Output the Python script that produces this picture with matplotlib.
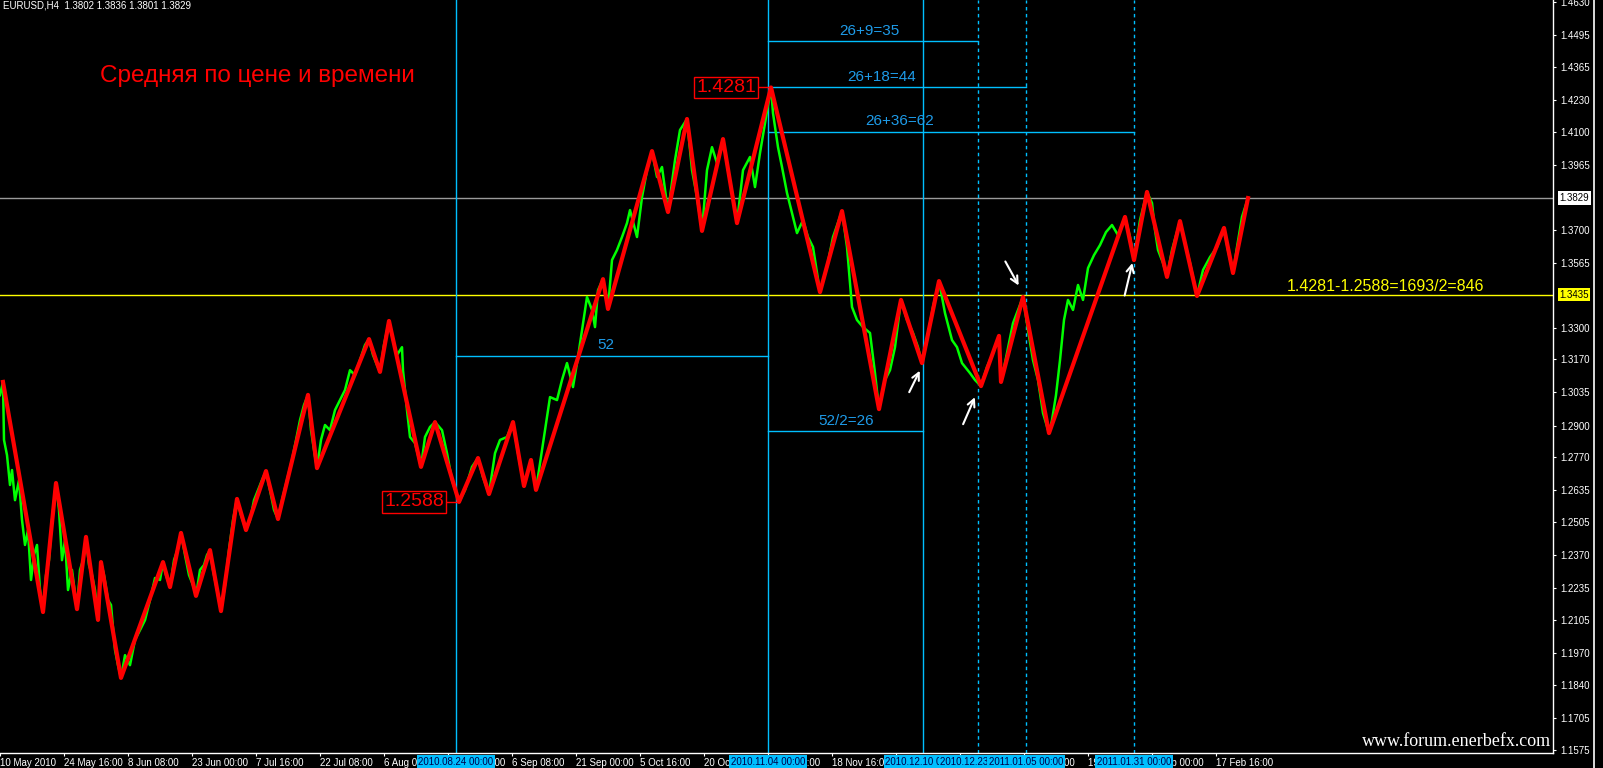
import matplotlib
matplotlib.use("Agg")
import matplotlib.pyplot as plt
from matplotlib.lines import Line2D
from matplotlib.transforms import blended_transform_factory

plt.rcParams['font.family'] = ['Liberation Sans', 'DejaVu Sans']

# EURUSD H4 closes (bar index from 10 May 2010 00:00, price)
px_bar = [0, 3, 4, 7, 10, 12, 15, 19, 22, 25, 28, 31, 34, 37, 40, 43, 46, 49, 52, 56,
          59, 62, 65, 68, 72, 77, 80, 83, 86, 89, 92, 95, 98, 101, 104, 108, 111, 115, 118, 121,
          125, 130, 135, 140, 145, 150, 155, 160, 163, 166, 170, 174, 178, 181, 185, 189, 193, 196, 200, 204,
          207, 210, 213, 217, 221, 225, 229, 233, 237, 241, 246, 250, 254, 258, 262, 266, 270, 274, 278, 282,
          287, 292, 296, 300, 304, 308, 311, 314, 317, 321, 325, 330, 335, 340, 345, 350, 355, 360, 365, 369,
          373, 377, 380, 384, 389, 393, 397, 402, 403, 407, 410, 415, 421, 425, 430, 435, 442, 447, 452, 459,
          465, 472, 478, 483, 489, 495, 500, 507, 513, 518, 524, 531, 536, 543, 550, 557, 562, 567, 573, 578,
          582, 587, 592, 595, 598, 603, 608, 612, 617, 622, 627, 630, 637, 642, 647, 652, 657, 662, 668, 675,
          680, 687, 692, 697, 702, 707, 712, 717, 723, 728, 733, 737, 743, 750, 755, 760, 765, 771, 773, 778,
          782, 787, 792, 797, 803, 808, 813, 820, 827, 833, 842, 847, 852, 857, 863, 870, 875, 879, 885, 890,
          895, 901, 907, 913, 918, 922, 927, 933, 939, 945, 952, 957, 962, 970, 975, 981, 987, 993, 999, 1001,
          1007, 1013, 1018, 1023, 1028, 1033, 1038, 1043, 1049, 1052, 1056, 1060, 1064, 1068, 1073, 1078, 1083, 1088, 1094, 1100,
          1106, 1112, 1118, 1125, 1130, 1134, 1140, 1147, 1152, 1155, 1158, 1163, 1167, 1172, 1180, 1185, 1190, 1197, 1203, 1210,
          1217, 1224, 1228, 1233, 1237, 1242, 1248]
px_close = [1.3024, 1.3078, 1.2841, 1.2779, 1.2657, 1.2718, 1.2595, 1.2677, 1.2514, 1.2412, 1.2473, 1.2269, 1.2371, 1.2412, 1.2228, 1.2138, 1.2289, 1.2350, 1.2514, 1.2665,
            1.2555, 1.2350, 1.2432, 1.2228, 1.2310, 1.2150, 1.2310, 1.2350, 1.2445, 1.2330, 1.2289, 1.2228, 1.2105, 1.2342, 1.2289, 1.2187, 1.2167, 1.1983, 1.1921, 1.1869,
            1.1962, 1.1921, 1.2024, 1.2064, 1.2105, 1.2187, 1.2277, 1.2269, 1.2342, 1.2289, 1.2240, 1.2350, 1.2399, 1.2461, 1.2371, 1.2289, 1.2248, 1.2204, 1.2310, 1.2330,
            1.2371, 1.2391, 1.2310, 1.2228, 1.2142, 1.2248, 1.2391, 1.2514, 1.2600, 1.2534, 1.2473, 1.2514, 1.2595, 1.2636, 1.2677, 1.2714, 1.2636, 1.2555, 1.2518, 1.2595,
            1.2677, 1.2759, 1.2841, 1.2922, 1.2984, 1.3025, 1.2881, 1.2800, 1.2726, 1.2841, 1.2902, 1.2881, 1.2963, 1.3004, 1.3045, 1.3126, 1.3106, 1.3167, 1.3229, 1.3253,
            1.3188, 1.3147, 1.3119, 1.3229, 1.3327, 1.3249, 1.3188, 1.3220, 1.3126, 1.2963, 1.2853, 1.2828, 1.2731, 1.2853, 1.2894, 1.2914, 1.2881, 1.2787, 1.2677, 1.2588,
            1.2636, 1.2731, 1.2767, 1.2689, 1.2620, 1.2787, 1.2841, 1.2853, 1.2914, 1.2787, 1.2653, 1.2759, 1.2637, 1.2828, 1.3016, 1.3004, 1.3086, 1.3155, 1.3057, 1.3180,
            1.3290, 1.3425, 1.3372, 1.3302, 1.3453, 1.3498, 1.3376, 1.3576, 1.3617, 1.3670, 1.3727, 1.3780, 1.3670, 1.3833, 1.3943, 1.4021, 1.3915, 1.3956, 1.3772, 1.3984,
            1.4107, 1.4152, 1.3943, 1.3833, 1.3695, 1.3943, 1.4037, 1.3972, 1.4070, 1.3943, 1.3833, 1.3727, 1.3943, 1.3997, 1.3874, 1.4013, 1.4135, 1.4281, 1.4176, 1.4037,
            1.3956, 1.3850, 1.3768, 1.3686, 1.3739, 1.3670, 1.3629, 1.3445, 1.3547, 1.3670, 1.3776, 1.3629, 1.3384, 1.3331, 1.3302, 1.3278, 1.3114, 1.2967, 1.3086, 1.3126,
            1.3220, 1.3413, 1.3331, 1.3278, 1.3220, 1.3155, 1.3249, 1.3384, 1.3490, 1.3359, 1.3249, 1.3220, 1.3155, 1.3114, 1.3086, 1.3061, 1.3139, 1.3196, 1.3266, 1.3078,
            1.3196, 1.3318, 1.3372, 1.3425, 1.3290, 1.3167, 1.3086, 1.2951, 1.2869, 1.2922, 1.3024, 1.3167, 1.3331, 1.3413, 1.3372, 1.3474, 1.3413, 1.3543, 1.3596, 1.3637,
            1.3690, 1.3719, 1.3678, 1.3752, 1.3670, 1.3576, 1.3739, 1.3854, 1.3809, 1.3698, 1.3617, 1.3564, 1.3507, 1.3617, 1.3735, 1.3645, 1.3564, 1.3429, 1.3535, 1.3588,
            1.3629, 1.3707, 1.3617, 1.3523, 1.3629, 1.3752, 1.3829]

# ZigZag pivots
zz_bar = [3, 43, 56, 77, 86, 98, 101, 121, 163, 170, 181, 196, 210, 221, 237, 246, 266, 278, 308, 317,
          369, 380, 389, 421, 435, 459, 478, 489, 513, 524, 531, 536, 603, 608, 652, 668, 687, 702, 723, 737,
          771, 820, 842, 879, 901, 922, 939, 981, 999, 1001, 1023, 1049, 1125, 1134, 1147, 1167, 1180, 1197, 1224, 1233,
          1248]
zz_price = [1.3078, 1.2138, 1.2665, 1.2150, 1.2445, 1.2106, 1.2342, 1.1869, 1.2342, 1.2240, 1.2461, 1.2204, 1.2391, 1.2142, 1.2600, 1.2473, 1.2714, 1.2518, 1.3025, 1.2726,
            1.3253, 1.3119, 1.3327, 1.2731, 1.2914, 1.2588, 1.2767, 1.2620, 1.2914, 1.2653, 1.2759, 1.2637, 1.3498, 1.3376, 1.4021, 1.3772, 1.4152, 1.3695, 1.4070, 1.3727,
            1.4281, 1.3445, 1.3776, 1.2967, 1.3413, 1.3155, 1.3490, 1.3061, 1.3266, 1.3078, 1.3425, 1.2869, 1.3752, 1.3576, 1.3854, 1.3507, 1.3735, 1.3429, 1.3707, 1.3523,
            1.3829]

y_ticks = [1.4630, 1.4495, 1.4365, 1.4230, 1.4100, 1.3965, 1.3700, 1.3565, 1.3300, 1.3170, 1.3035,
           1.2900, 1.2770, 1.2635, 1.2505, 1.2370, 1.2235, 1.2105, 1.1970, 1.1840, 1.1705, 1.1575]
x_labels = ["10 May 2010", "24 May 16:00", "8 Jun 08:00", "23 Jun 00:00", "7 Jul 16:00", "22 Jul 08:00",
            "6 Aug 00:00", "20 Aug 16:00", "6 Sep 08:00", "21 Sep 00:00", "5 Oct 16:00", "20 Oct 08:00",
            "4 Nov 00:00", "18 Nov 16:00", "3 Dec 08:00", "20 Dec 00:00", "4 Jan 16:00", "19 Jan 08:00",
            "3 Feb 00:00", "17 Feb 16:00"]
bars_per_label = 64

# vertical time lines
event_bar = [456, 768, 923, 978, 1026, 1134]
event_label = ["2010.08.24 00:00", "2010.11.04 00:00", "2010.12.10 00:00",
               "2010.12.23 00:00", "2011.01.05 00:00", "2011.01.31 00:00"]
event_dashed = [False, False, False, True, True, True]

# horizontal measuring lines
meas_start = [456, 768, 768, 768, 768]
meas_end = [768, 923, 978, 1026, 1134]
meas_price = [1.3184, 1.2878, 1.4471, 1.4281, 1.4099]
meas_text = ["52", "52/2=26", "26+9=35", "26+18=44", "26+36=62"]
meas_text_bar = [606, 846, 869, 882, 900]
meas_text_price = [1.3229, 1.2918, 1.4513, 1.4324, 1.4144]

last_price = 1.3829
mid_price = 1.3435
low_bar, low_price = 459, 1.2588
high_bar, high_price = 771, 1.4281

cyan = '#00BFFF'
cyan_txt = '#1E9BE8'

fig = plt.figure(figsize=(16.03, 7.68), dpi=100, facecolor='black')
ax = fig.add_axes([0, 15 / 768, 1553 / 1603, 753 / 768], facecolor='black')
ax.set_xlim(0, 1553)
ax.set_ylim(1.15622, 1.46382)

ax.axhline(last_price, color='#9a9a9a', lw=1, zorder=1)
ax.axhline(mid_price, color='#FFFF00', lw=1, zorder=1)

for b, d in zip(event_bar, event_dashed):
    ax.axvline(b, color=cyan, lw=1, ls=(0, (2.5, 2.5)) if d else '-', zorder=1)

for s, e, p in zip(meas_start, meas_end, meas_price):
    ax.plot([s, e], [p, p], color=cyan, lw=1, zorder=1)
for t, b, p in zip(meas_text, meas_text_bar, meas_text_price):
    ax.text(b, p, t, color=cyan_txt, fontsize=11, ha='center', va='center')

ax.plot(px_bar, px_close, color='#00FF00', lw=1.8, zorder=3)
ax.plot(zz_bar, zz_price, color='#FF0000', lw=3, zorder=4)

# pivot price boxes
for b, p, off in [(low_bar, low_price, 15), (high_bar, high_price, 15)]:
    ax.plot([b - off + 3, b], [p, p], color='#FF0000', lw=1, zorder=4)
    ax.text(b - off, p, f"{p:.4f}", color='#FF0000', fontsize=14, ha='right', va='center',
            bbox=dict(facecolor='black', edgecolor='#FF0000', lw=1, pad=1.5), zorder=6)

ax.text(1385, 1.3466, "1.4281-1.2588=1693/2=846", color='#FFFF00', fontsize=11.5,
        ha='center', va='center')

ax.text(100 / 1553, 1 - 76 / 753, "Средняя по цене и времени", color='#FF0000',
        fontsize=17.5, ha='left', va='center', transform=ax.transAxes)
ax.text(3 / 1553, 1 - 6 / 753, "EURUSD,H4  1.3802 1.3836 1.3801 1.3829", color='white',
        fontsize=7, ha='left', va='center', transform=ax.transAxes)
ax.text(1551 / 1553, 11 / 753, "www.forum.enerbefx.com", color='white', fontsize=13,
        family='Liberation Serif', ha='right', va='center', transform=ax.transAxes)

# hand drawn arrows
arrows = [((908, 1.3026), (921, 1.3134)), ((962, 1.2895), (976, 1.3026)),
          ((1004, 1.3580), (1020, 1.3462)), ((1124, 1.3420), (1133, 1.3575))]
for (x0, y0), (x1, y1) in arrows:
    ax.annotate("", xy=(x1, y1), xytext=(x0, y0),
                arrowprops=dict(arrowstyle='->', color='white', lw=1.5, mutation_scale=13), zorder=7)

# axes styling
for side in ['left', 'top']:
    ax.spines[side].set_visible(False)
for side in ['right', 'bottom']:
    ax.spines[side].set_color('white')
    ax.spines[side].set_linewidth(1)
ax.yaxis.tick_right()
ax.set_yticks(y_ticks)
ax.set_yticklabels([f"{v:.4f}" for v in y_ticks])
ax.tick_params(axis='y', colors='white', labelsize=7, length=2.5, pad=2.5, direction='out')
ax.set_xticks([i * bars_per_label for i in range(len(x_labels))])
ax.set_xticklabels(x_labels, ha='left')
ax.tick_params(axis='x', colors='white', labelsize=7, length=2.5, pad=1, direction='out')

# current / level price tags on the scale
ytr = blended_transform_factory(ax.transAxes, ax.transData)
for p, fc in [(last_price, 'white'), (mid_price, '#FFFF00')]:
    ax.annotate(f"{p:.4f}", xy=(1, p), xycoords=ytr, xytext=(4.5, 0), textcoords='offset points',
                ha='left', va='center', fontsize=7, color='black',
                bbox=dict(facecolor=fc, edgecolor='none', pad=1.2), annotation_clip=False, zorder=10)

# highlighted dates of the vertical lines on the time scale
xtr = blended_transform_factory(ax.transData, ax.transAxes)
for b, lab in zip(event_bar, event_label):
    ax.annotate(lab, xy=(b, 0), xycoords=xtr, xytext=(0, -6.5), textcoords='offset points',
                ha='center', va='center', fontsize=7, color='#00004a',
                bbox=dict(facecolor=cyan, edgecolor='none', pad=1.3), annotation_clip=False, zorder=10)

fig.add_artist(Line2D([1594 / 1603, 1594 / 1603], [0, 1], color='white', lw=1.2, transform=fig.transFigure))

fig.savefig("out.png", dpi=100, facecolor='black')
